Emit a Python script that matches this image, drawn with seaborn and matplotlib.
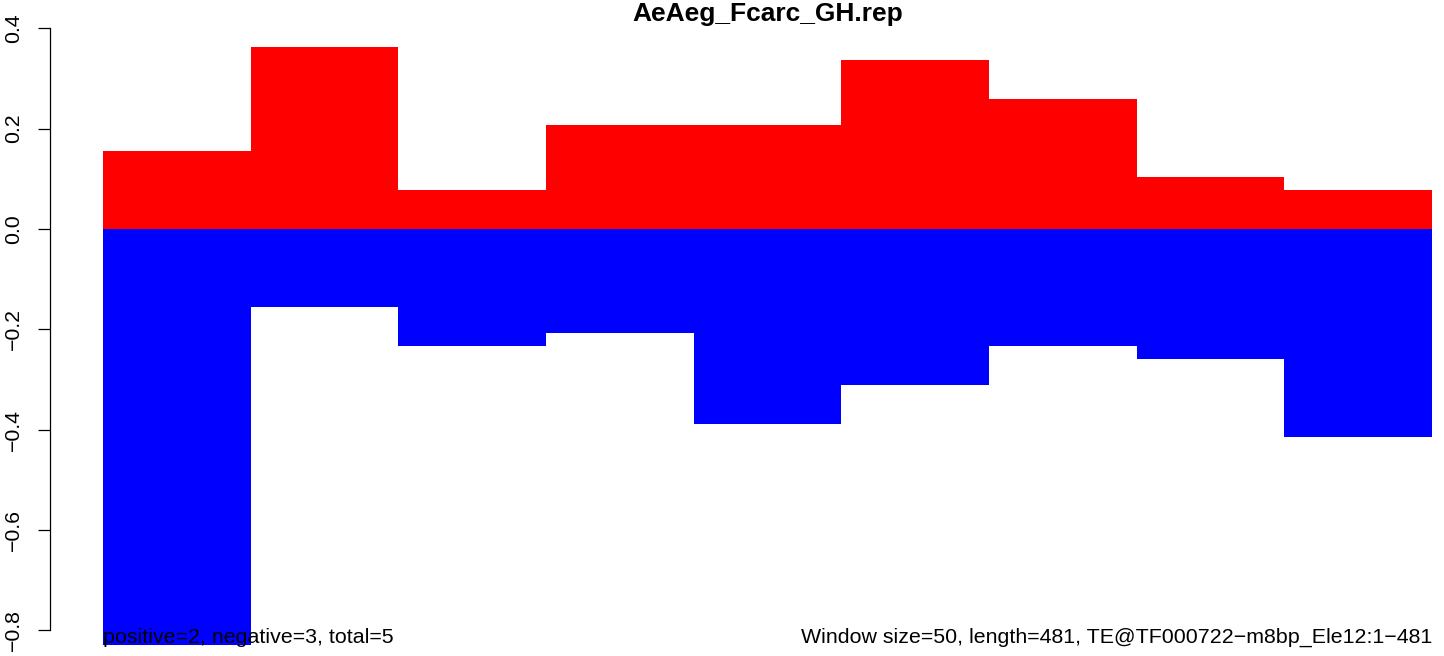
import matplotlib
matplotlib.use("Agg")
import matplotlib.pyplot as plt
import seaborn as sns
import pandas as pd

# Window-level scores along the element (9 windows of 50 bp)
windows = [1, 2, 3, 4, 5, 6, 7, 8, 9]
positive_scores = [0.155, 0.363, 0.078, 0.207, 0.207, 0.337, 0.259, 0.104, 0.078]
negative_scores = [-0.829, -0.155, -0.233, -0.207, -0.389, -0.311, -0.233, -0.259, -0.415]
y_ticks = [-0.8, -0.6, -0.4, -0.2, 0.0, 0.2, 0.4]
y_tick_labels = ["\u22120.8", "\u22120.6", "\u22120.4", "\u22120.2", "0.0", "0.2", "0.4"]

title = "AeAeg_Fcarc_GH.rep"
left_note = "positive=2, negative=3, total=5"
right_note = "Window size=50, length=481, TE@TF000722\u2212m8bp_Ele12:1\u2212481"

sns.set_theme(style="white")
plt.rcParams["font.family"] = ["Liberation Sans", "DejaVu Sans"]

W, H = 1444, 656
fig = plt.figure(figsize=(W / 100, H / 100), dpi=100)
# plot region runs from x=50px to past the right edge of the image
ax = fig.add_axes([50 / W, 0.0, (1485 - 50) / W, 1.0])

df = pd.DataFrame({"window": windows, "pos": positive_scores, "neg": negative_scores})
sns.barplot(data=df, x="window", y="pos", color="#ff0000", saturation=1,
            width=1.0, linewidth=0, errorbar=None, ax=ax)
sns.barplot(data=df, x="window", y="neg", color="#0000ff", saturation=1,
            width=1.0, linewidth=0, errorbar=None, ax=ax)

n = len(windows)
ax.set_xlim(-0.5 - 0.36, n - 0.5 + 0.36)
ppu = 501.7
ax.set_ylim(-0.8 - (H - 630.4) / ppu, 0.4 + 28.3 / ppu)

for s in ["top", "right", "bottom"]:
    ax.spines[s].set_visible(False)
ax.spines["left"].set_bounds(-0.8, 0.4)
ax.spines["left"].set_color("black")
ax.spines["left"].set_linewidth(0.9)

ax.set_xticks([])
ax.set_xlabel("")
ax.set_ylabel("")
ax.set_yticks(y_ticks)
ax.set_yticklabels(y_tick_labels, rotation=90, va="center", fontsize=15.3)
ax.tick_params(axis="y", which="major", direction="out", length=9, width=0.9,
               color="black", pad=10.5, left=True, labelcolor="black")

ax.text(-0.5, -0.825, left_note, ha="left", va="baseline", fontsize=15.4, color="black")
ax.text(n - 0.5, -0.825, right_note, ha="right", va="baseline", fontsize=15.4, color="black")

fig.text(767.5 / W, 1 - 20.7 / H, title, ha="center", va="baseline",
         fontsize=19, fontweight="bold", color="black")

fig.savefig("out.png", dpi=100, facecolor="white")
